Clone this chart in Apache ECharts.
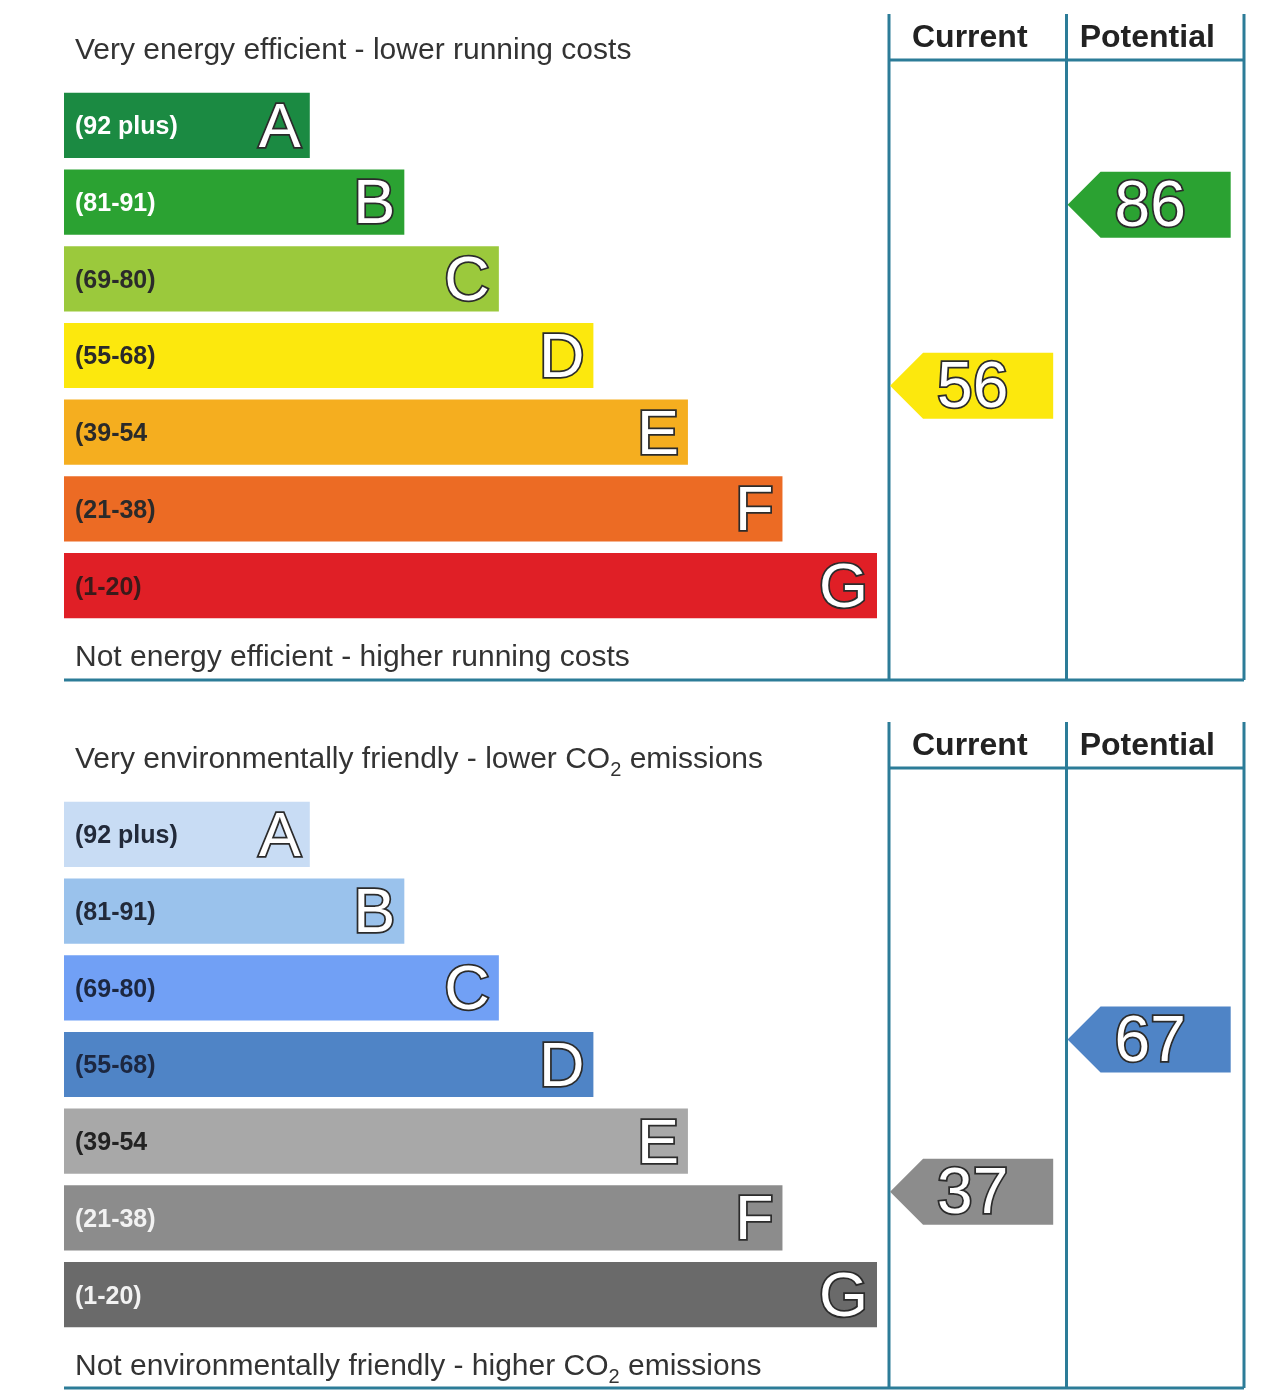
<!DOCTYPE html>
<html><head><meta charset="utf-8">
<script src="https://cdn.jsdelivr.net/npm/echarts@6/dist/echarts.min.js"></script>
<style>html,body{margin:0;padding:0;background:#fff}#c{width:1280px;height:1395px}</style>
</head><body><div id="c"></div>
<script>
// ---- data ----
const bands = ['A', 'B', 'C', 'D', 'E', 'F', 'G'];
const energyRanges = ['(92 plus)', '(81-91)', '(69-80)', '(55-68)', '(39-54', '(21-38)', '(1-20)'];
const co2Ranges = ['(92 plus)', '(81-91)', '(69-80)', '(55-68)', '(39-54', '(21-38)', '(1-20)'];
const bandLow = [92, 81, 69, 55, 39, 21, 1];
const bandHigh = [100, 91, 80, 68, 54, 38, 20];
const barLengths = [26, 36, 46, 56, 66, 76, 86];
const columns = ['Current', 'Potential'];
const energyScores = [56, 86];
const co2Scores = [37, 67];
const energyColors = ['#1b8a42', '#2ba232', '#9bc93c', '#fce80d', '#f5ae1f', '#ec6b24', '#e01f26'];
const energyRangeTextColors = ['#ffffff', '#ffffff', '#2a2a2a', '#2a2a2a', '#2a2a2a', '#2a2a2a', '#3a1a1a'];
const co2Colors = ['#c8dcf4', '#9ac2ec', '#71a0f5', '#4f84c6', '#a8a8a8', '#8c8c8c', '#6a6a6a'];
const co2RangeTextColors = ['#222a3a', '#222a3a', '#1c2740', '#1c2740', '#222222', '#f2f2f2', '#f2f2f2'];
const energyTopCaption = 'Very energy efficient - lower running costs';
const energyBottomCaption = 'Not energy efficient - higher running costs';
const co2TopCaption = 'Very environmentally friendly - lower CO{s|2} emissions';
const co2BottomCaption = 'Not environmentally friendly - higher CO{s|2} emissions';

// ---- layout ----
const LINE = '#2c7c98';
const FONT = 'Liberation Sans, Arial, sans-serif';
const panels = [
  { top: 87, frameTop: 14, headerY: 38, headerLine: 60, capTop: 51, capBottom: 658, frameBottom: 680,
    colors: energyColors, rangeColors: energyRangeTextColors, ranges: energyRanges, scores: energyScores,
    capT: energyTopCaption, capB: energyBottomCaption },
  { top: 796, frameTop: 722, headerY: 746, headerLine: 768, capTop: 760, capBottom: 1367, frameBottom: 1388,
    colors: co2Colors, rangeColors: co2RangeTextColors, ranges: co2Ranges, scores: co2Scores,
    capT: co2TopCaption, capB: co2BottomCaption }
];
const GRID_H = 537;
const barLeft = 64, barW = 813, colLeft = 889, colW = 355;

function bandOf(s) {
  for (let i = 0; i < bands.length; i++) if (s >= bandLow[i] && s <= bandHigh[i]) return i;
  return bands.length - 1;
}
function scorePos(s) {
  const i = bandOf(s);
  const f = (s - bandLow[i]) / (bandHigh[i] - bandLow[i]);
  return i + 0.96 - f * 0.85;
}

const grid = [], xAxis = [], yAxis = [], series = [], graphic = [];
panels.forEach((p, k) => {
  grid.push({ left: barLeft, top: p.top, width: barW, height: GRID_H });
  grid.push({ left: colLeft, top: p.top, width: colW, height: GRID_H });
  xAxis.push({ type: 'value', gridIndex: 2 * k, min: 0, max: 86, show: false });
  xAxis.push({ type: 'value', gridIndex: 2 * k + 1, min: 0, max: 2, show: false });
  yAxis.push({ type: 'category', gridIndex: 2 * k, data: bands, inverse: true, show: false });
  yAxis.push({ type: 'value', gridIndex: 2 * k + 1, min: 0, max: 7, inverse: true, show: false });

  series.push({
    type: 'bar', xAxisIndex: 2 * k, yAxisIndex: 2 * k, barCategoryGap: '15%', silent: true,
    data: barLengths.map((v, i) => ({ value: v, itemStyle: { color: p.colors[i] } })),
    label: { show: true, position: 'insideRight', distance: 9, offset: [0, 4], formatter: (q) => bands[q.dataIndex],
      fontFamily: FONT, fontSize: 63, color: '#ffffff', textBorderColor: '#2b2b2b', textBorderWidth: 3.5 }
  });
  series.push({
    type: 'bar', xAxisIndex: 2 * k, yAxisIndex: 2 * k, barCategoryGap: '15%', barGap: '-100%', silent: true,
    data: barLengths.map((v, i) => ({ value: v, itemStyle: { color: 'rgba(0,0,0,0)' },
      label: { color: p.rangeColors[i] } })),
    label: { show: true, position: 'insideLeft', distance: 11, offset: [0, 2], formatter: (q) => p.ranges[q.dataIndex],
      fontFamily: FONT, fontSize: 25, fontWeight: 'bold' }
  });
  series.push({
    type: 'custom', xAxisIndex: 2 * k + 1, yAxisIndex: 2 * k + 1, silent: true,
    data: p.scores.map((s, c) => [c, scorePos(s), s]),
    renderItem: (params, api) => {
      const c = api.value(0), y = api.value(1), s = api.value(2);
      const a = api.coord([c + 0.006, y]);
      const b = api.coord([c + 0.925, y]);
      const h = api.size([0, 0.86])[1];
      const tip = 33;
      const L = a[0], R = b[0], Y = a[1];
      return { type: 'group', children: [
        { type: 'polygon', shape: { points: [[L, Y], [L + tip, Y - h / 2], [R, Y - h / 2], [R, Y + h / 2], [L + tip, Y + h / 2]] },
          style: { fill: p.colors[bandOf(s)] } },
        { type: 'text', x: (L + R) / 2 + 1, y: Y + 4,
          style: { text: String(s), align: 'center', verticalAlign: 'middle', fontFamily: FONT, fontSize: 64,
            fill: '#ffffff', stroke: '#2b2b2b', lineWidth: 3.5, strokeFirst: true } }
      ] };
    }
  });

  // frame lines
  const ls = { stroke: LINE, lineWidth: 3 };
  [colLeft, colLeft + colW / 2, colLeft + colW].forEach(x => {
    graphic.push({ type: 'line', shape: { x1: x, y1: p.frameTop, x2: x, y2: p.frameBottom }, style: ls, silent: true });
  });
  graphic.push({ type: 'line', shape: { x1: colLeft, y1: p.headerLine, x2: colLeft + colW, y2: p.headerLine }, style: ls, silent: true });
  graphic.push({ type: 'line', shape: { x1: barLeft, y1: p.frameBottom, x2: colLeft + colW, y2: p.frameBottom }, style: ls, silent: true });
  columns.forEach((name, c) => {
    graphic.push({ type: 'text', x: colLeft + colW / 4 + c * colW / 2 - 8, y: p.headerY, silent: true,
      style: { text: name, align: 'center', verticalAlign: 'middle', fontFamily: FONT, fontSize: 32, fontWeight: 'bold', fill: '#222' } });
  });
  const rich = { s: { fontFamily: FONT, fontSize: 20, fill: '#333', padding: [20, 0, 0, 0] } };
  graphic.push({ type: 'text', x: 75, y: p.capTop, silent: true,
    style: { text: p.capT, rich, align: 'left', verticalAlign: 'middle', fontFamily: FONT, fontSize: 30, fill: '#333' } });
  graphic.push({ type: 'text', x: 75, y: p.capBottom, silent: true,
    style: { text: p.capB, rich, align: 'left', verticalAlign: 'middle', fontFamily: FONT, fontSize: 30, fill: '#333' } });
});

const chart = echarts.init(document.getElementById('c'), null, { renderer: 'canvas' });
chart.setOption({ backgroundColor: '#ffffff', animation: false, grid, xAxis, yAxis, series, graphic });
</script>
</body></html>
